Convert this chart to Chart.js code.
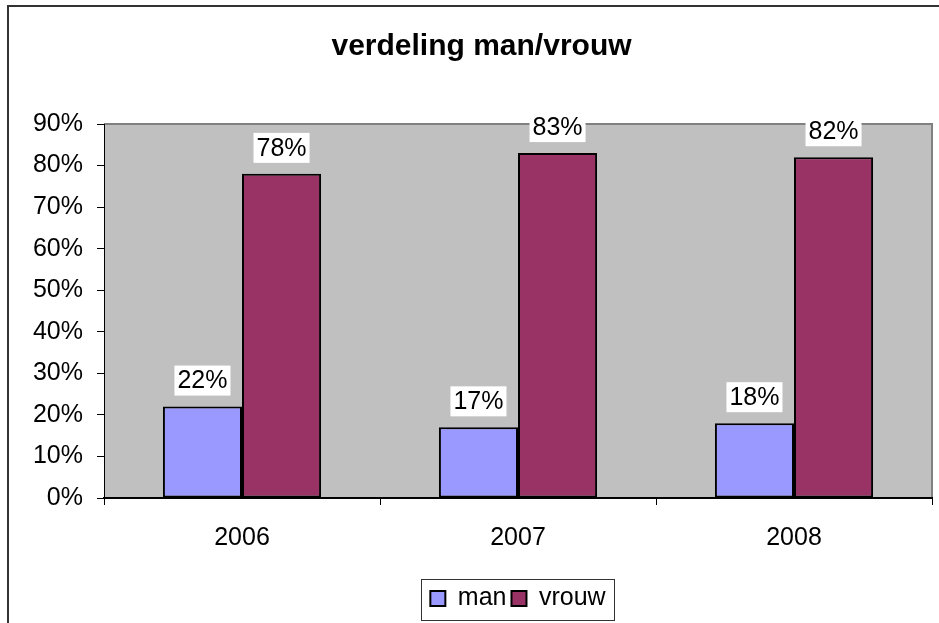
<!DOCTYPE html>
<html>
<head>
<meta charset="utf-8">
<script src="https://cdn.jsdelivr.net/npm/chart.js@4.4.0/dist/chart.umd.min.js"></script>
<style>
  html, body { margin: 0; padding: 0; background: #fff; }
  #wrap { width: 939px; height: 623px; position: relative; }
</style>
</head>
<body>
<div id="wrap"><canvas id="chart"></canvas></div>
<script>
// data
const years = ["2006", "2007", "2008"];
const manValues = [22, 17, 18];
const vrouwValues = [78, 83, 82];
const yMax = 90;
const yStep = 10;

const FONT = "'Liberation Sans', Arial, Helvetica, sans-serif";
Chart.defaults.font.family = FONT;
Chart.defaults.color = "#000";

// gray plot area + outer chart frame
const plotBackground = {
  id: "plotBackground",
  beforeDraw(chart) {
    const { ctx, chartArea: a } = chart;
    ctx.save();
    ctx.fillStyle = "#c0c0c0";
    ctx.fillRect(a.left, a.top, a.right - a.left, a.bottom - a.top);
    ctx.strokeStyle = "#808080";
    ctx.lineWidth = 2;
    ctx.beginPath();
    ctx.moveTo(a.left, a.top);
    ctx.lineTo(a.right, a.top);
    ctx.lineTo(a.right, a.bottom);
    ctx.stroke();
    ctx.strokeStyle = "#333";
    ctx.lineWidth = 2;
    ctx.strokeRect(8, 6, chart.width + 20, chart.height + 20);
    ctx.restore();
  },
};

// value labels on white boxes above the bars
const barLabels = {
  id: "barLabels",
  afterDatasetsDraw(chart) {
    const ctx = chart.ctx;
    ctx.save();
    ctx.font = "25px " + FONT;
    ctx.textAlign = "center";
    ctx.textBaseline = "middle";
    chart.data.datasets.forEach((ds, i) => {
      chart.getDatasetMeta(i).data.forEach((bar, j) => {
        const text = ds.data[j] + "%";
        const w = ctx.measureText(text).width + 6;
        const h = 30;
        const cx = bar.x;
        const cy = bar.y - 26;
        ctx.fillStyle = "#fff";
        ctx.fillRect(cx - w / 2, cy - h / 2, w, h);
        ctx.fillStyle = "#000";
        ctx.fillText(text, cx, cy + 1);
      });
    });
    ctx.restore();
  },
};

// thin frame round the legend
const legendFrame = {
  id: "legendFrame",
  afterDraw(chart) {
    const boxes = chart.legend && chart.legend.legendHitBoxes;
    if (!boxes || !boxes.length) return;
    const x0 = Math.min(...boxes.map((b) => b.left)) - 9;
    const x1 = Math.max(...boxes.map((b) => b.left + b.width)) + 9;
    const y0 = Math.min(...boxes.map((b) => b.top)) - 7;
    const y1 = Math.max(...boxes.map((b) => b.top + b.height)) + 9;
    const ctx = chart.ctx;
    ctx.save();
    ctx.strokeStyle = "#333";
    ctx.lineWidth = 1;
    ctx.strokeRect(Math.round(x0) + 0.5, Math.round(y0) + 0.5, Math.round(x1 - x0), Math.round(y1 - y0));
    ctx.restore();
  },
};

new Chart(document.getElementById("chart"), {
  type: "bar",
  data: {
    labels: years,
    datasets: [
      {
        label: "man",
        data: manValues,
        backgroundColor: "#9999ff",
        borderColor: "#000",
        borderWidth: 2,
        borderSkipped: false,
      },
      {
        label: "vrouw",
        data: vrouwValues,
        backgroundColor: "#993366",
        borderColor: "#000",
        borderWidth: 2,
        borderSkipped: false,
      },
    ],
  },
  options: {
    responsive: true,
    maintainAspectRatio: false,
    animation: false,
    events: [],
    categoryPercentage: 0.573,
    barPercentage: 1,
    layout: { padding: { left: 31, right: 7, top: 0, bottom: 2 } },
    plugins: {
      title: {
        display: true,
        text: "verdeling man/vrouw",
        font: { size: 30, weight: "bold" },
        color: "#000",
        padding: { top: 29, bottom: 59 },
      },
      legend: {
        position: "bottom",
        fullSize: false,
        labels: {
          font: { size: 25 },
          color: "#000",
          boxWidth: 15,
          boxHeight: 15,
          padding: 5,
        },
      },
      tooltip: { enabled: false },
    },
    scales: {
      x: {
        grid: { drawOnChartArea: false, tickLength: 7, color: "#000" },
        border: { color: "#000", width: 2 },
        ticks: { font: { size: 25 }, color: "#000", padding: 18 },
        afterFit(scale) { scale.height = 83; },
      },
      y: {
        min: 0,
        max: yMax,
        grid: { drawOnChartArea: false, tickLength: 7, color: "#000" },
        border: { color: "#000", width: 1 },
        ticks: {
          stepSize: yStep,
          font: { size: 25 },
          color: "#000",
          padding: 14,
          callback: (v) => v + "%",
        },
        afterFit(scale) { scale.width = 73; },
      },
    },
  },
  plugins: [plotBackground, barLabels, legendFrame],
});
</script>
</body>
</html>
